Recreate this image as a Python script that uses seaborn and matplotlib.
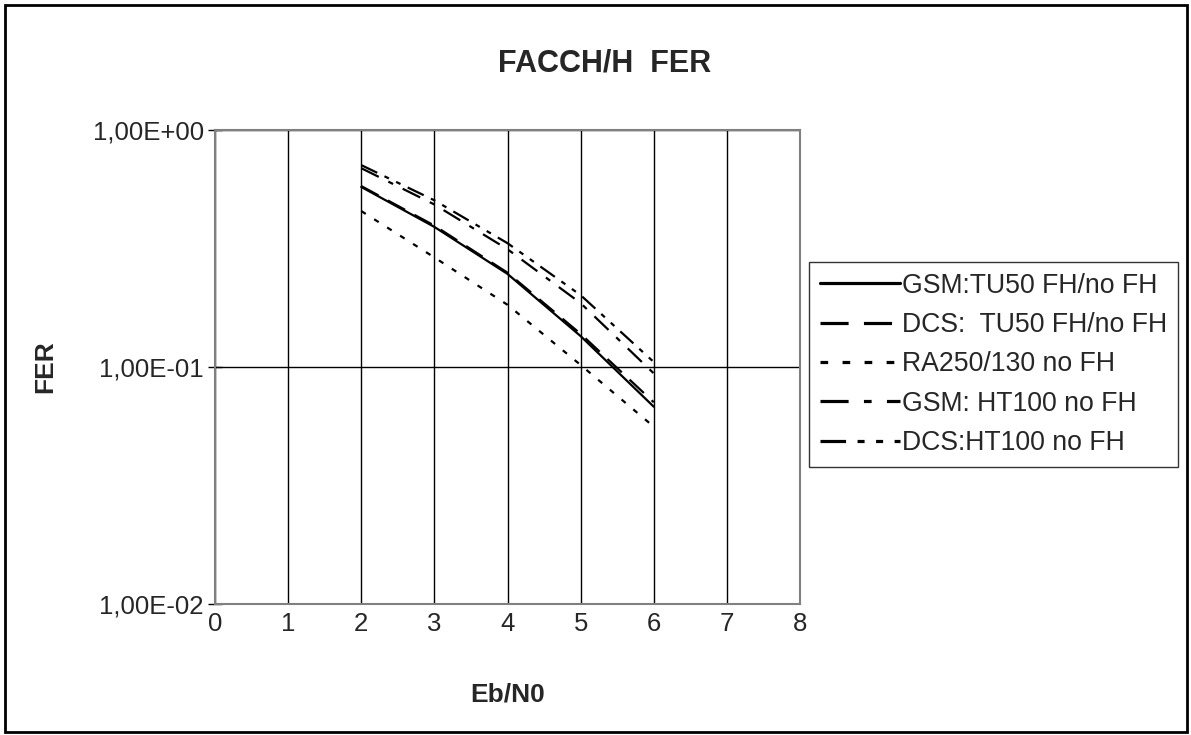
import matplotlib
matplotlib.use("Agg")
import matplotlib.pyplot as plt
import seaborn as sns
import pandas as pd
from matplotlib.patches import Rectangle
from matplotlib.ticker import FixedLocator, FixedFormatter, NullLocator

# ---- data ----
eb_n0 = [2, 3, 4, 5, 6]
gsm_tu50 = [0.575, 0.39, 0.247, 0.135, 0.068]
dcs_tu50 = [0.58, 0.395, 0.25, 0.138, 0.071]
ra250 = [0.455, 0.29, 0.183, 0.102, 0.056]
gsm_ht100 = [0.69, 0.485, 0.314, 0.186, 0.094]
dcs_ht100 = [0.711, 0.505, 0.333, 0.201, 0.105]
series_names = ["GSM:TU50 FH/no FH", "DCS:  TU50 FH/no FH", "RA250/130 no FH",
                "GSM: HT100 no FH", "DCS:HT100 no FH"]
series_values = [gsm_tu50, dcs_tu50, ra250, gsm_ht100, dcs_ht100]
x_ticks = [0, 1, 2, 3, 4, 5, 6, 7, 8]
y_ticks = [1.0, 0.1, 0.01]
y_tick_labels = ["1,00E+00", "1,00E-01", "1,00E-02"]

rows = []
for name, vals in zip(series_names, series_values):
    for xv, yv in zip(eb_n0, vals):
        rows.append({"Eb/N0": xv, "FER": yv, "series": name})
df = pd.DataFrame(rows)

sns.set_style("white")
plt.rcParams["font.family"] = ["Liberation Sans", "DejaVu Sans"]

fig = plt.figure(figsize=(11.91, 7.35), dpi=100)
ax = fig.add_axes([215 / 1191, 131 / 735, 585 / 1191, 474 / 735])

dashes = {
    series_names[0]: "",
    series_names[1]: (8.8, 4.8),
    series_names[2]: (2.4, 4.5),
    series_names[3]: (8.8, 4.8, 2.4, 4.8),
    series_names[4]: (8.0, 3.6, 2.2, 3.6, 2.2, 3.6),
}
sns.lineplot(data=df, x="Eb/N0", y="FER", style="series", style_order=series_names,
             dashes=dashes, color="black", linewidth=1.6, ax=ax, legend=True)

ax.set_yscale("log")
ax.set_ylim(0.01, 1.0)
ax.set_xlim(0, 8)
ax.xaxis.set_major_locator(FixedLocator(x_ticks))
ax.yaxis.set_major_locator(FixedLocator(y_ticks))
ax.yaxis.set_major_formatter(FixedFormatter(y_tick_labels))
ax.yaxis.set_minor_locator(NullLocator())
ax.grid(True, which="major", color="black", linewidth=1.0)
for s in ax.spines.values():
    s.set_color("#808080")
    s.set_linewidth(1.5)
ax.tick_params(axis="y", which="major", direction="inout", length=10, width=1,
               color="black", labelsize=18.5, pad=3, left=True)
ax.tick_params(axis="x", which="major", length=0, labelsize=18.5, pad=6)
ax.set_xlabel("")
ax.set_ylabel("")

fig.text(45 / 1191, 1 - 367 / 735, "FER", rotation=90, ha="center", va="center",
         fontsize=19, fontweight="bold")
fig.text(508 / 1191, 1 - 695 / 735, "Eb/N0", ha="center", va="center",
         fontsize=19, fontweight="bold")
fig.text(605 / 1191, 1 - 63 / 735, "FACCH/H  FER", ha="center", va="center",
         fontsize=22, fontweight="bold")

handles, labels = ax.get_legend_handles_labels()
leg = ax.legend(handles, labels, loc="upper left",
                bbox_to_anchor=(809 / 1191, 1 - 262 / 735),
                bbox_transform=fig.transFigure, fontsize=19.2, frameon=True,
                fancybox=False, shadow=False, handlelength=3.0, handletextpad=0.1,
                labelspacing=0.5, borderpad=0.4, borderaxespad=0)
leg.get_frame().set_edgecolor("black")
leg.get_frame().set_linewidth(1.0)
for line in leg.get_lines():
    line.set_linewidth(2.3)

fig.patches.append(Rectangle((5 / 1191, 3 / 735), 1182 / 1191, 727 / 735,
                             transform=fig.transFigure, fill=False,
                             edgecolor="black", linewidth=2))

fig.savefig("out.png", dpi=100)
